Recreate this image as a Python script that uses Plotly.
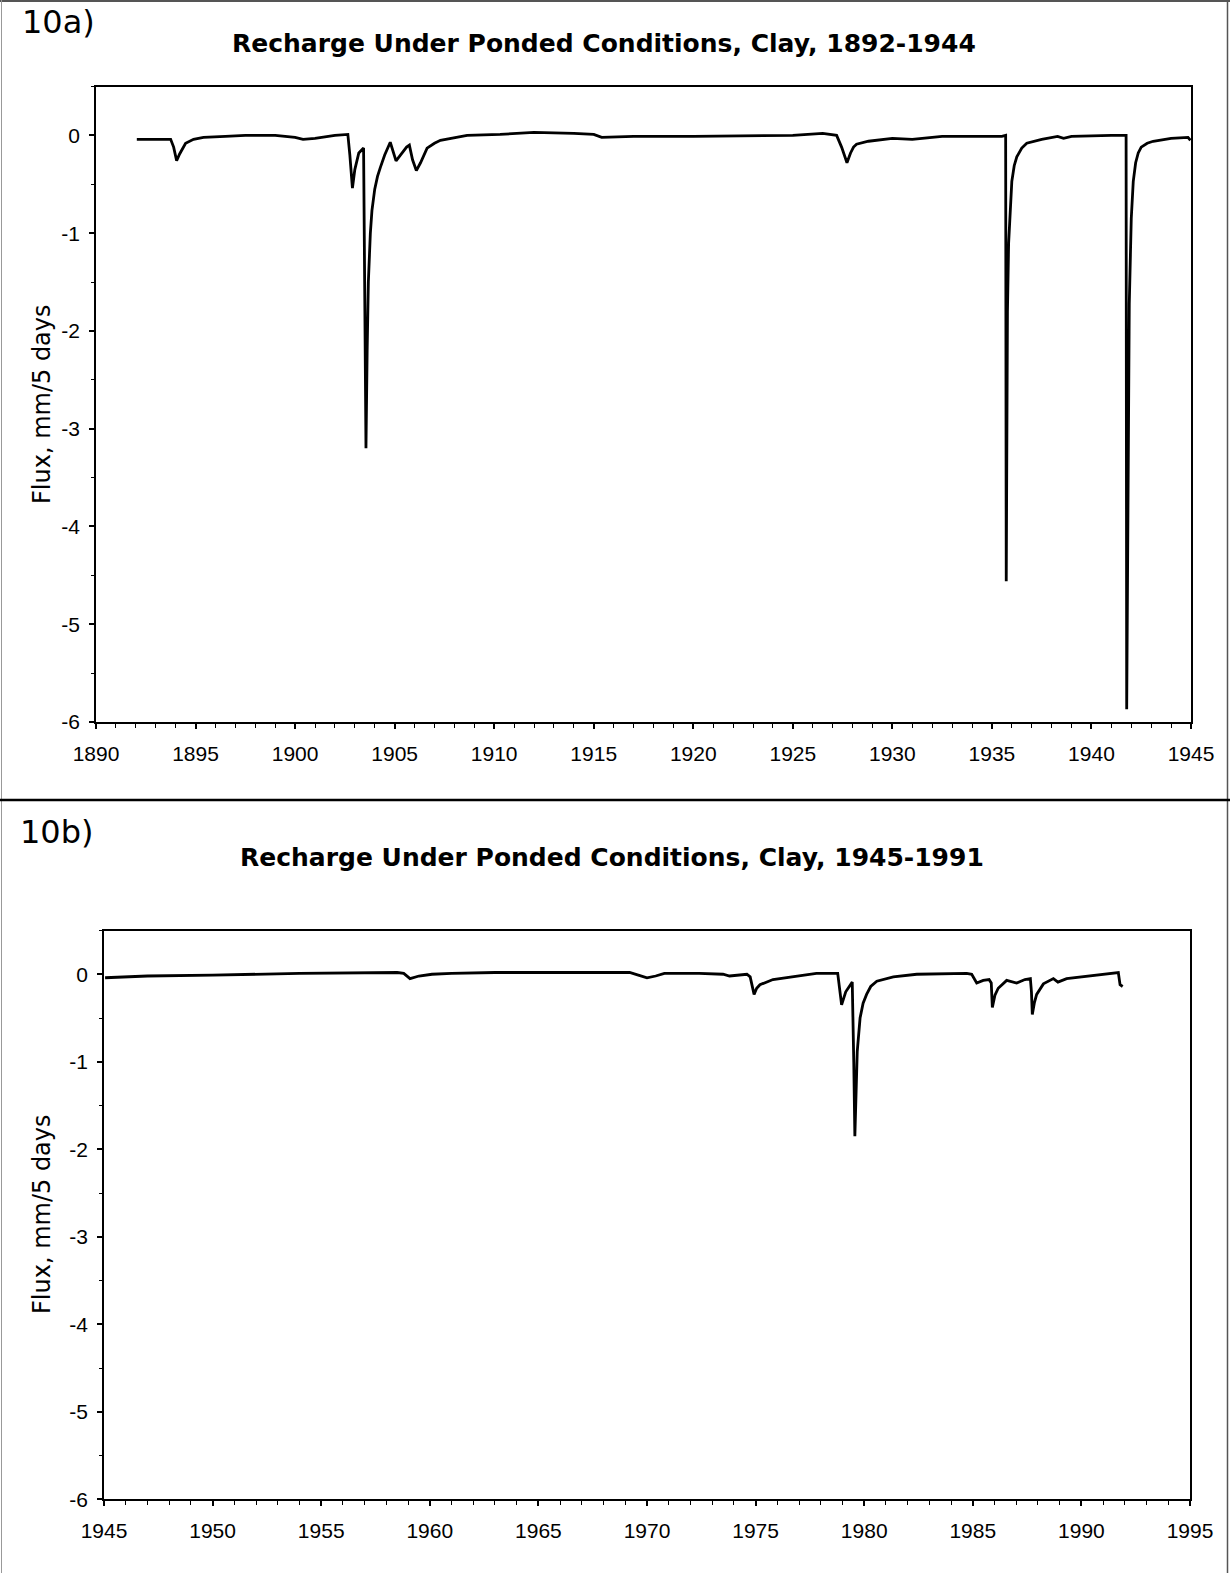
import plotly.graph_objects as go

# Panel 10a: simulated recharge flux under ponded conditions, clay, 1892-1944
years_a = [
    1892.05, 1893.0, 1893.75, 1893.9, 1894.05, 1894.2, 1894.35, 1894.5, 1894.9,
    1895.4, 1896.5, 1897.5, 1899.0, 1900.0, 1900.4, 1901.0, 1902.0, 1902.65,
    1902.75, 1902.88, 1903.0, 1903.2, 1903.44, 1903.5, 1903.56, 1903.62,
    1903.68, 1903.78, 1903.86, 1904.0, 1904.14, 1904.28, 1904.5, 1904.78,
    1904.9, 1905.07, 1905.3, 1905.6, 1905.74, 1905.9, 1906.09, 1906.3,
    1906.63, 1907.0, 1907.3, 1908.0, 1908.64, 1910.3, 1912.0, 1914.0, 1915.0,
    1915.4, 1917.0, 1920.0, 1925.0, 1926.5, 1927.2, 1927.45, 1927.72, 1927.9,
    1928.05, 1928.2, 1928.8, 1930.0, 1931.0, 1931.5, 1932.5, 1935.5, 1935.69,
    1935.72, 1935.78, 1935.84, 1935.92, 1936.0, 1936.12, 1936.25, 1936.5,
    1936.75, 1937.5, 1938.3, 1938.6, 1939.0, 1941.0, 1941.74, 1941.77,
    1941.84, 1941.9, 1942.0, 1942.1, 1942.22, 1942.35, 1942.5, 1942.8,
    1943.1, 1944.0, 1944.85, 1944.97,
]
flux_a = [
    -0.04, -0.04, -0.04, -0.12, -0.26, -0.19, -0.13, -0.08, -0.04,
    -0.02, -0.01, 0.0, 0.0, -0.02, -0.04, -0.03, 0.0, 0.01,
    -0.2, -0.54, -0.35, -0.18, -0.13, -1.5, -3.2, -2.2,
    -1.5, -1.0, -0.77, -0.55, -0.42, -0.33, -0.2, -0.07,
    -0.15, -0.26, -0.2, -0.12, -0.1, -0.25, -0.36, -0.28,
    -0.13, -0.08, -0.05, -0.02, 0.0, 0.01, 0.03, 0.02, 0.01,
    -0.02, -0.01, -0.01, 0.0, 0.02, 0.0, -0.12, -0.28, -0.18,
    -0.12, -0.09, -0.06, -0.03, -0.04, -0.03, -0.01, -0.01, 0.0,
    -4.56, -1.8, -1.1, -0.7, -0.47, -0.31, -0.22, -0.13,
    -0.08, -0.04, -0.01, -0.03, -0.01, 0.0, 0.0, -5.87,
    -2.8, -1.72, -0.85, -0.47, -0.28, -0.18, -0.12, -0.08,
    -0.06, -0.03, -0.02, -0.05,
]

# Panel 10b: same quantity, 1945-1991
years_b = [
    1945.05, 1947.0, 1950.0, 1951.5, 1954.0, 1958.5, 1958.8, 1959.09, 1959.5,
    1960.1, 1961.0, 1963.0, 1969.2, 1969.6, 1970.0, 1970.4, 1970.8, 1972.4,
    1973.5, 1973.8, 1974.6, 1974.75, 1974.93, 1975.05, 1975.2, 1975.8,
    1977.05, 1977.8, 1978.78, 1978.85, 1978.96, 1979.15, 1979.45, 1979.52,
    1979.57, 1979.68, 1979.81, 1979.95, 1980.11, 1980.3, 1980.58, 1981.34,
    1982.42, 1984.72, 1984.95, 1985.18, 1985.48, 1985.75, 1985.85, 1985.9,
    1986.02, 1986.17, 1986.56, 1987.02, 1987.4, 1987.65, 1987.7, 1987.74,
    1987.84, 1987.94, 1988.25, 1988.71, 1988.92, 1989.32, 1990.07, 1990.86,
    1991.7, 1991.78, 1991.9,
]
flux_b = [
    -0.04, -0.02, -0.01, 0.0, 0.01, 0.02, 0.01, -0.05, -0.02,
    0.0, 0.01, 0.02, 0.02, -0.01, -0.04, -0.02, 0.01, 0.01,
    0.0, -0.02, 0.0, -0.03, -0.23, -0.16, -0.12, -0.06,
    -0.02, 0.01, 0.01, -0.15, -0.35, -0.2, -0.09, -1.0,
    -1.85, -0.88, -0.5, -0.33, -0.23, -0.14, -0.08, -0.03,
    0.0, 0.01, 0.0, -0.1, -0.07, -0.06, -0.1, -0.38,
    -0.24, -0.16, -0.07, -0.1, -0.06, -0.05, -0.2, -0.46,
    -0.32, -0.23, -0.11, -0.05, -0.09, -0.05, -0.03, -0.01,
    0.02, -0.12, -0.14,
]

flux_ticks = [0, -1, -2, -3, -4, -5, -6]
year_ticks_a = [1890, 1895, 1900, 1905, 1910, 1915, 1920, 1925, 1930, 1935, 1940, 1945]
year_ticks_b = [1945, 1950, 1955, 1960, 1965, 1970, 1975, 1980, 1985, 1990, 1995]

W, H = 1230, 1573
TICK_FONT = dict(family="Liberation Sans, Arial, sans-serif", size=21, color="black")
WIDE_FONT = "DejaVu Sans, Verdana, sans-serif"


def px_x(v):
    return v / W


def px_y(v):
    return 1 - v / H


fig = go.Figure()
fig.add_trace(go.Scatter(x=years_a, y=flux_a, mode="lines",
                         line=dict(color="black", width=2.8),
                         xaxis="x", yaxis="y", showlegend=False))
fig.add_trace(go.Scatter(x=years_b, y=flux_b, mode="lines",
                         line=dict(color="black", width=2.8),
                         xaxis="x2", yaxis="y2", showlegend=False))


def xaxis_style(rng, ticks, domain, anchor):
    return dict(
        domain=domain, anchor=anchor, range=rng, automargin=False,
        tickmode="array", tickvals=ticks, ticktext=[str(t) for t in ticks],
        ticks="outside", ticklen=5, tickwidth=1.5, tickcolor="black",
        minor=dict(dtick=1, ticks="outside", ticklen=4, tickwidth=1, tickcolor="black"),
        showline=True, linecolor="black", linewidth=1.5, mirror=True,
        showgrid=False, zeroline=False, tickfont=TICK_FONT,
        ticklabelstandoff=7,
    )


def yaxis_style(domain, anchor):
    return dict(
        domain=domain, anchor=anchor, range=[-6, 0.5], automargin=False,
        tickmode="array", tickvals=flux_ticks, ticktext=[str(t) for t in flux_ticks],
        ticks="outside", ticklen=5, tickwidth=1.5, tickcolor="black",
        minor=dict(dtick=0.5, ticks="outside", ticklen=3, tickwidth=1, tickcolor="black"),
        showline=True, linecolor="black", linewidth=1.5, mirror=True,
        showgrid=False, zeroline=False, tickfont=TICK_FONT,
        ticklabelstandoff=5,
    )


fig.update_layout(
    width=W, height=H, autosize=False,
    margin=dict(l=0, r=0, t=0, b=0, pad=0),
    paper_bgcolor="white", plot_bgcolor="white",
    xaxis=xaxis_style([1890, 1945], year_ticks_a, [px_x(96), px_x(1191)], "y"),
    yaxis=yaxis_style([px_y(722), px_y(86.5)], "x"),
    xaxis2=xaxis_style([1945, 1995], year_ticks_b, [px_x(104), px_x(1190)], "y2"),
    yaxis2=yaxis_style([px_y(1499.3), px_y(930.5)], "x2"),
)

annotations = [
    dict(text="10a)", x=px_x(20), y=px_y(22), xanchor="left", yanchor="middle",
         font=dict(family=WIDE_FONT, size=32, color="black")),
    dict(text="<b>Recharge Under Ponded Conditions, Clay, 1892-1944</b>",
         x=px_x(604), y=px_y(43), xanchor="center", yanchor="middle",
         font=dict(family=WIDE_FONT, size=25, color="black")),
    dict(text="Flux, mm/5 days", x=px_x(42), y=px_y(404), textangle=-90,
         xanchor="center", yanchor="middle",
         font=dict(family=WIDE_FONT, size=24, color="black")),
    dict(text="10b)", x=px_x(18), y=px_y(832), xanchor="left", yanchor="middle",
         font=dict(family=WIDE_FONT, size=32, color="black")),
    dict(text="<b>Recharge Under Ponded Conditions, Clay, 1945-1991</b>",
         x=px_x(612), y=px_y(858), xanchor="center", yanchor="middle",
         font=dict(family=WIDE_FONT, size=25, color="black")),
    dict(text="Flux, mm/5 days", x=px_x(42), y=px_y(1214), textangle=-90,
         xanchor="center", yanchor="middle",
         font=dict(family=WIDE_FONT, size=24, color="black")),
]
for a in annotations:
    a.update(xref="paper", yref="paper", showarrow=False)
fig.update_layout(annotations=annotations)

# Page frame around the two panels and the divider between them
shapes = [
    dict(type="line", x0=0, x1=1, y0=px_y(1), y1=px_y(1),
         line=dict(color="#555555", width=2)),
    dict(type="line", x0=px_x(1.5), x1=px_x(1.5), y0=0, y1=1,
         line=dict(color="#999999", width=1)),
    dict(type="line", x0=px_x(1227.5), x1=px_x(1227.5), y0=0, y1=1,
         line=dict(color="#555555", width=1.5)),
    dict(type="line", x0=0, x1=1, y0=px_y(800), y1=px_y(800),
         line=dict(color="black", width=2.5)),
]
for s in shapes:
    s.update(xref="paper", yref="paper")
fig.update_layout(shapes=shapes)

fig.write_html("out.html")
